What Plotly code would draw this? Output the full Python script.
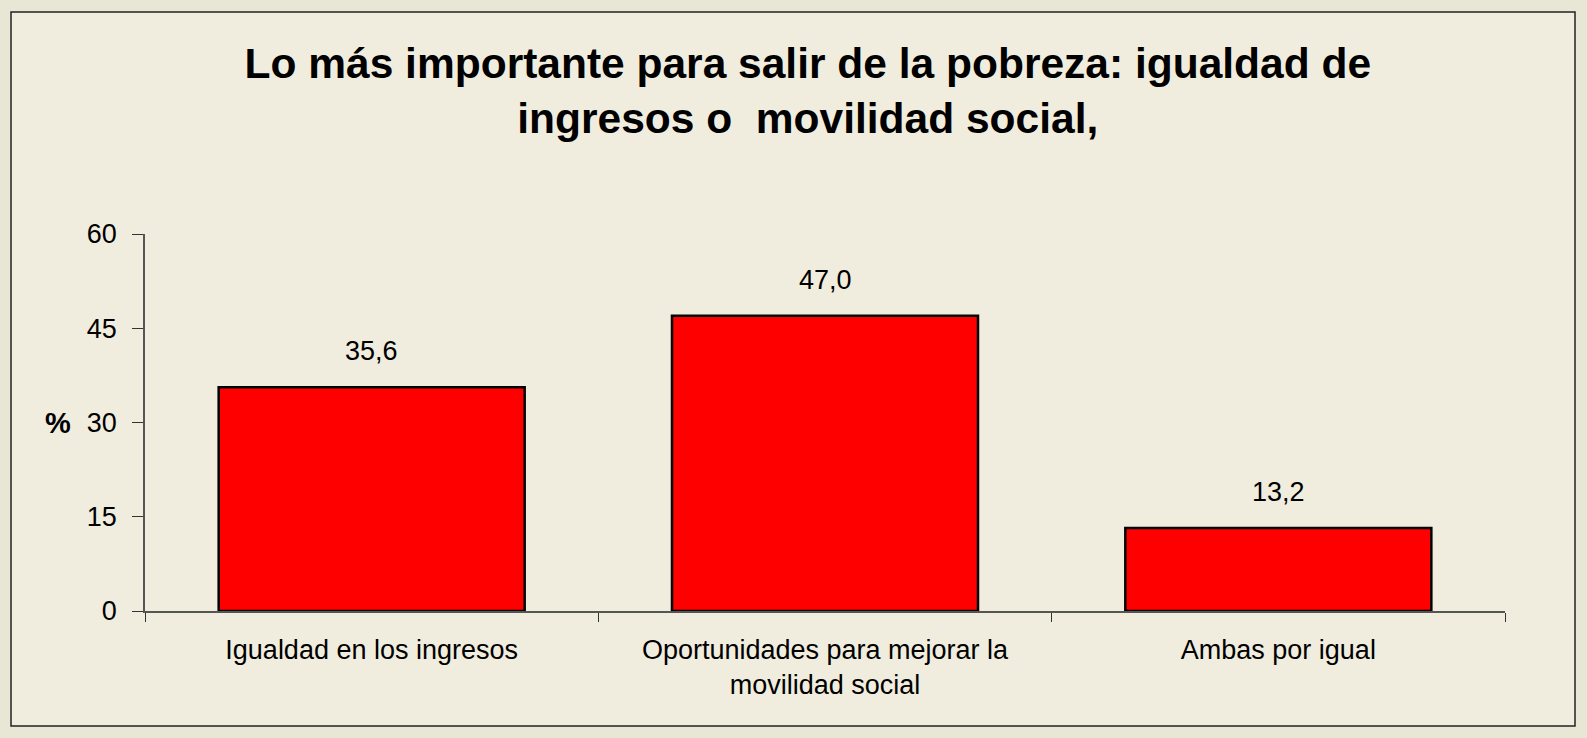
import plotly.graph_objects as go

# Datos
categorias = [
    "Igualdad en los ingresos",
    "Oportunidades para mejorar la<br>movilidad social",
    "Ambas por igual",
]
porcentajes = [35.6, 47.0, 13.2]
ticks_y = [0, 15, 30, 45, 60]

TITULO = "Lo más importante para salir de la pobreza: igualdad de<br>ingresos o  movilidad social,"
FUENTE = "'Liberation Sans', Arial, sans-serif"

fig = go.Figure()
fig.add_trace(go.Bar(
    x=categorias,
    y=porcentajes,
    marker=dict(color="#FF0000", line=dict(color="#000000", width=2.5)),
    width=0.675,
    hoverinfo="skip",
))

# Etiquetas de valor sobre las barras
for cat, val in zip(categorias, porcentajes):
    fig.add_annotation(
        x=cat, y=val, text=f"{val:.1f}".replace(".", ","),
        showarrow=False, yanchor="bottom", yshift=19,
        font=dict(size=27, color="#000000"),
    )

# Marco exterior
fig.add_shape(
    type="rect", xref="paper", yref="paper",
    x0=-134 / 1360, x1=1430 / 1360, y0=-115 / 377, y1=599 / 377,
    line=dict(color="#222222", width=1.5), fillcolor="#F1EDDE", layer="below",
)

# Etiqueta "%" del eje Y
fig.add_annotation(
    xref="paper", yref="y", x=-72 / 1360, y=30, xanchor="right",
    text="<b>%</b>", showarrow=False, font=dict(size=29, color="#000000"),
)

fig.update_layout(
    width=1587, height=738,
    font=dict(family=FUENTE, color="#000000"),
    paper_bgcolor="#E8E7D5",
    plot_bgcolor="rgba(0,0,0,0)",
    margin=dict(l=145, r=82, t=234, b=127),
    title=dict(
        text=f"<b>{TITULO}</b>",
        x=0.509, xanchor="center", y=1 - 78 / 738, yanchor="top",
        font=dict(size=42.5, color="#000000"),
    ),
    showlegend=False,
    bargap=0.325,
    xaxis=dict(
        showline=True, linecolor="#555555", linewidth=1.5,
        ticks="outside", tickson="boundaries", ticklen=9, tickcolor="#333333",
        tickfont=dict(size=27), showgrid=False, ticklabelstandoff=14,
    ),
    yaxis=dict(
        range=[0, 60], tickvals=ticks_y,
        showline=True, linecolor="#555555", linewidth=1.5,
        ticks="outside", ticklen=11, tickcolor="#333333",
        tickfont=dict(size=27), showgrid=False, zeroline=False,
        ticklabelstandoff=10,
    ),
)

# sin margen del body para que la figura ocupe toda la ventana
fig.write_html(
    "out.html",
    config={"displayModeBar": False},
    post_script="document.body.style.margin='0';",
)
